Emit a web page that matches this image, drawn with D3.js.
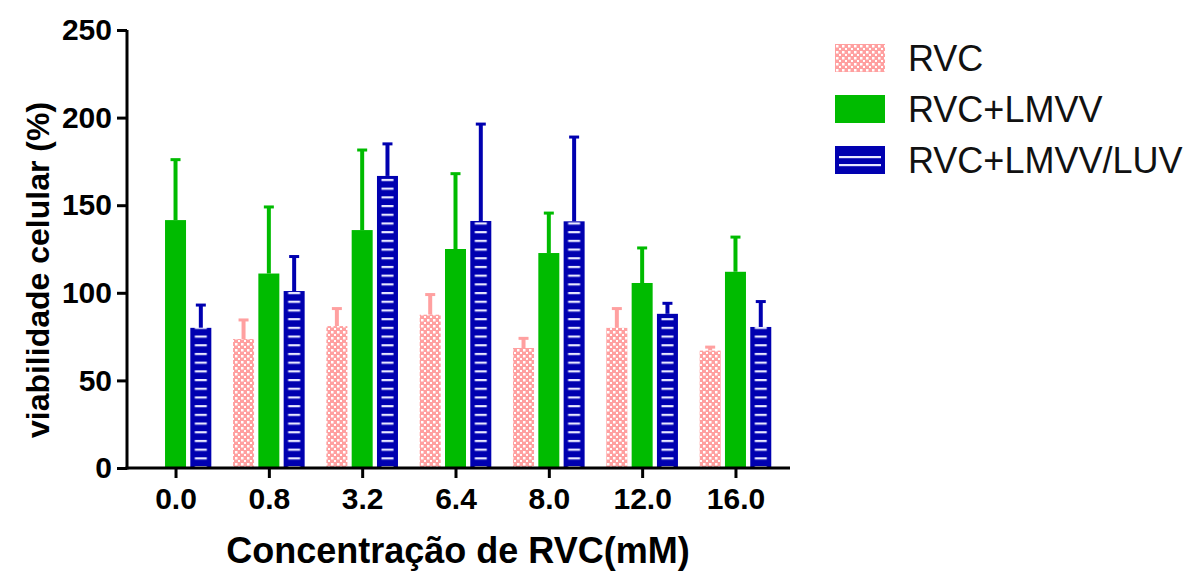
<!DOCTYPE html>
<html>
<head>
<meta charset="utf-8">
<script src="https://cdn.jsdelivr.net/npm/d3@7"></script>
<style>
  body { margin: 0; background: #fff; }
  svg { display: block; font-family: "Liberation Sans", Arial, sans-serif; }
</style>
</head>
<body>
<div id="chart"></div>
<script>
// data
const categories = ['0.0', '0.8', '3.2', '6.4', '8.0', '12.0', '16.0'];
const seriesNames = ['RVC', 'RVC+LMVV', 'RVC+LMVV/LUV'];
const rvc = [null, 73.6, 81, 87.5, 68.5, 80, 67];
const rvcErr = [null, 10.9, 10, 11.5, 5.5, 11, 2];
const rvcLmvv = [141.5, 111, 135.8, 125, 122.7, 105.6, 112];
const rvcLmvvErr = [34.5, 38, 45.7, 43, 22.8, 20, 19.8];
const rvcLmvvLuv = [80, 101, 166.7, 141, 140.8, 88, 80.5];
const rvcLmvvLuvErr = [13, 19.7, 18.3, 55.3, 48.1, 6, 14.5];
const yTicks = [0, 50, 100, 150, 200, 250];

const width = 1184, height = 573;
const colors = { RVC: '#ffa0a0', 'RVC+LMVV': '#00bb00', 'RVC+LMVV/LUV': '#0000b0' };

const svg = d3.select('#chart').append('svg')
    .attr('width', width)
    .attr('height', height);

const defs = svg.append('defs');

const x = d3.scalePoint().domain(categories).range([127, 784]).padding(0.52);
const xSub = d3.scaleBand().domain(seriesNames).range([-35.8, 35.8]).paddingInner(0.17);
const y = d3.scaleLinear().domain([0, 250]).range([468, 30]);

// checker pattern for RVC
const checker = defs.append('pattern')
    .attr('id', 'checker')
    .attr('patternUnits', 'userSpaceOnUse')
    .attr('width', 6).attr('height', 6);
checker.append('rect').attr('width', 6).attr('height', 6).attr('fill', colors.RVC);
checker.append('rect').attr('x', 1).attr('y', 1).attr('width', 2.5).attr('height', 2.5).attr('fill', '#fff');
checker.append('rect').attr('x', 4).attr('y', 4).attr('width', 2.5).attr('height', 2.5).attr('fill', '#fff');

// horizontal dashes for RVC+LMVV/LUV, aligned to each blue bar
const bw = xSub.bandwidth();
const dashes = defs.append('pattern')
    .attr('id', 'dashes')
    .attr('patternUnits', 'userSpaceOnUse')
    .attr('x', x(categories[0]) + xSub('RVC+LMVV/LUV'))
    .attr('y', y(0) - 2)
    .attr('width', x.step()).attr('height', 8.7);
dashes.append('rect').attr('width', x.step()).attr('height', 8.7).attr('fill', colors['RVC+LMVV/LUV']);
dashes.append('rect').attr('x', 4.5).attr('y', 0).attr('width', bw - 9).attr('height', 2.2).attr('fill', '#e8e8ff');

const fills = { RVC: 'url(#checker)', 'RVC+LMVV': colors['RVC+LMVV'], 'RVC+LMVV/LUV': 'url(#dashes)' };

const series = [
    { name: 'RVC', values: rvc, errs: rvcErr },
    { name: 'RVC+LMVV', values: rvcLmvv, errs: rvcLmvvErr },
    { name: 'RVC+LMVV/LUV', values: rvcLmvvLuv, errs: rvcLmvvLuvErr }
];

const barData = [];
series.forEach(s => {
    categories.forEach((c, i) => {
        if (s.values[i] != null) {
            barData.push({ name: s.name, cat: c, value: s.values[i], err: s.errs[i] });
        }
    });
});

const bars = svg.append('g').attr('class', 'bars');

// error bars (upper only)
bars.selectAll('.err')
    .data(barData)
    .enter().append('line')
    .attr('class', 'err')
    .attr('x1', d => x(d.cat) + xSub(d.name) + bw / 2)
    .attr('x2', d => x(d.cat) + xSub(d.name) + bw / 2)
    .attr('y1', d => y(d.value))
    .attr('y2', d => y(d.value + d.err))
    .attr('stroke', d => colors[d.name])
    .attr('stroke-width', 4);

bars.selectAll('.cap')
    .data(barData)
    .enter().append('line')
    .attr('class', 'cap')
    .attr('x1', d => x(d.cat) + xSub(d.name) + bw / 2 - 5)
    .attr('x2', d => x(d.cat) + xSub(d.name) + bw / 2 + 5)
    .attr('y1', d => y(d.value + d.err))
    .attr('y2', d => y(d.value + d.err))
    .attr('stroke', d => colors[d.name])
    .attr('stroke-width', 3);

bars.selectAll('.bar')
    .data(barData)
    .enter().append('rect')
    .attr('class', 'bar')
    .attr('x', d => x(d.cat) + xSub(d.name))
    .attr('y', d => y(d.value))
    .attr('width', bw)
    .attr('height', d => y(0) - y(d.value))
    .attr('fill', d => fills[d.name]);

// axes
const yAxis = svg.append('g')
    .attr('transform', 'translate(127,0)')
    .call(d3.axisLeft(y).tickValues(yTicks).tickSize(10).tickPadding(5).tickSizeOuter(0));

const xAxis = svg.append('g')
    .attr('transform', `translate(0,${y(0)})`)
    .call(d3.axisBottom(x).tickSize(10).tickPadding(10).tickSizeOuter(0));

[yAxis, xAxis].forEach(a => {
    a.selectAll('path, line').attr('stroke', '#000').attr('stroke-width', 3);
    a.selectAll('text')
        .attr('fill', '#000')
        .style('font-size', '30px')
        .style('font-weight', 'bold')
        .style('font-family', '"Liberation Sans", Arial, sans-serif');
});
xAxis.select('.domain').attr('d', `M125.5,0H790`);
yAxis.select('.domain').attr('d', `M0,${y(0) + 1.5}V${y(250)}`);

// axis titles
svg.append('text')
    .attr('transform', 'translate(49,270) rotate(-90)')
    .attr('text-anchor', 'middle')
    .style('font-size', '32px')
    .style('font-weight', 'bold')
    .text('viabilidade celular (%)');

svg.append('text')
    .attr('x', 458)
    .attr('y', 563)
    .attr('text-anchor', 'middle')
    .style('font-size', '36px')
    .style('font-weight', 'bold')
    .text('Concentração de RVC(mM)');

// legend
const legend = svg.append('g').attr('transform', 'translate(835,44)');
const rows = legend.selectAll('.row')
    .data(seriesNames)
    .enter().append('g')
    .attr('class', 'row')
    .attr('transform', (d, i) => `translate(0,${i * 51})`);

rows.append('rect')
    .attr('width', 50)
    .attr('height', 28)
    .attr('fill', d => d === 'RVC' ? 'url(#checker)' : colors[d]);

rows.filter(d => d === 'RVC+LMVV/LUV')
    .selectAll('.stripe')
    .data([10, 18])
    .enter().append('rect')
    .attr('x', 4).attr('y', d => d)
    .attr('width', 42).attr('height', 2.2)
    .attr('fill', '#e8e8ff');

rows.append('text')
    .attr('x', 73)
    .attr('y', 27)
    .style('font-size', '36px')
    .attr('fill', '#111')
    .text(d => d);
</script>
</body>
</html>
